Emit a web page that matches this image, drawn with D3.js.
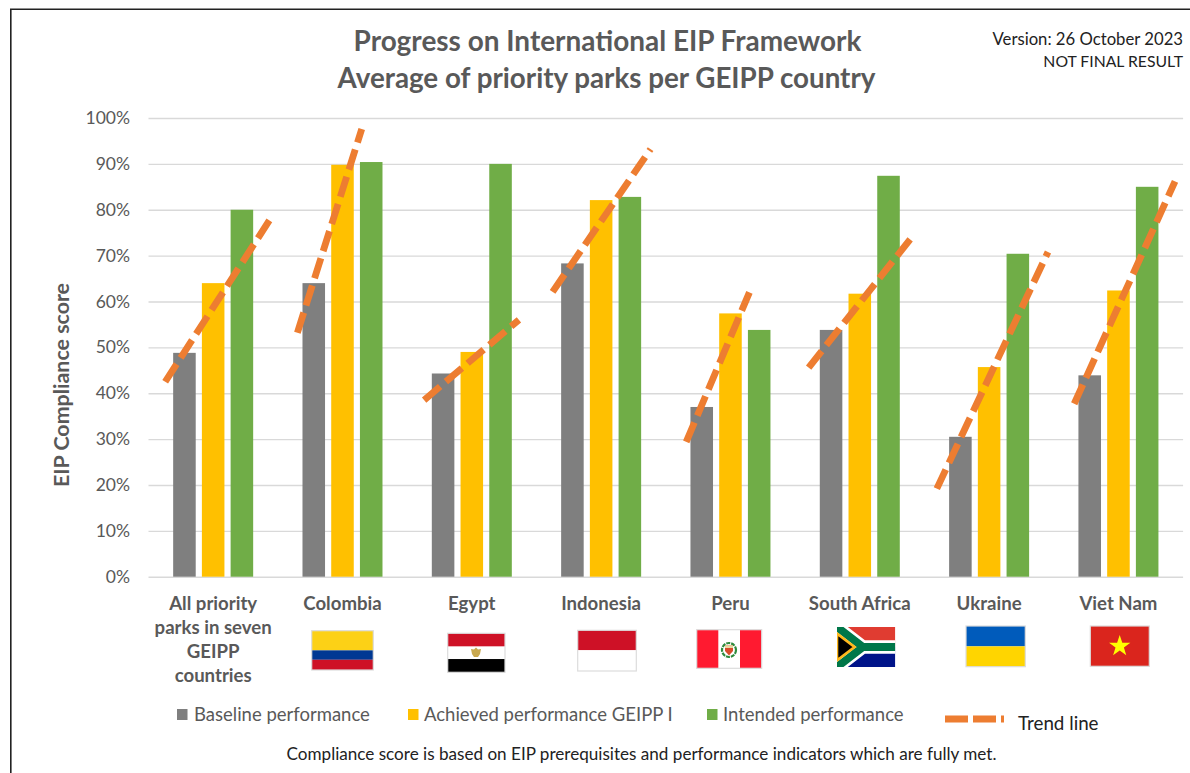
<!DOCTYPE html>
<html><head><meta charset="utf-8">
<script src="https://cdn.jsdelivr.net/npm/d3@7"></script>
<style>
html,body{margin:0;padding:0;background:#fff;overflow:hidden}
svg{display:block}
text{font-family:Lato,"Noto Sans",sans-serif}
</style></head><body>
<script>
const categories = ["All priority parks in seven GEIPP countries","Colombia","Egypt","Indonesia","Peru","South Africa","Ukraine","Viet Nam"];
const baseline = [48.8,64,44.3,68.3,37,53.8,30.5,43.9];
const achieved = [64,89.8,49,82.1,57.4,61.7,45.7,62.4];
const intended = [80,90.4,90,82.8,53.8,87.4,70.4,85];
const trendStart = [42.5,53.2,38.5,62.1,29.4,45.6,19.2,37.7];
const trendEnd = [77.8,97.6,56,93.2,62,74,70.8,86.2];
const trendFrom = [-1.67,-1.57,-1.66,-1.69,-1.54,-1.78,-1.82,-1.54];
const trendTo = [1.97,0.67,1.64,1.72,0.66,1.81,2.05,1.97];
const seriesNames = ["Baseline performance","Achieved performance GEIPP I","Intended performance"];
const seriesValues = [baseline,achieved,intended];
const seriesColors = ["#7f7f7f","#ffc000","#70ad47"];
const yTicks = [0,10,20,30,40,50,60,70,80,90,100];
const titleLines = ["Progress on International EIP Framework","Average of priority parks per GEIPP country"];

const W=1190,H=773;
const svg=d3.select("body").append("svg").attr("width",W).attr("height",H);
svg.append("rect").attr("width",W).attr("height",H).attr("fill","#fff");
svg.append("path").attr("d","M10.8,773V9.2H1190").attr("fill","none").attr("stroke","#222").attr("stroke-width",1.6);

const x=d3.scaleBand().domain(categories).range([148.5,1183.1]);
const y=d3.scaleLinear().domain([0,100]).range([576.7,118]);
const inner=d3.scaleBand().domain(d3.range(3)).range([-40,40]).paddingInner(0.215);
const slot=inner.step();
const cx=c=>x(c)+x.bandwidth()/2;

// axis and gridlines
const gAxis=svg.append("g").attr("transform","translate(148.5,0)")
  .call(d3.axisLeft(y).tickValues(yTicks).tickFormat(d=>d+"%").tickSize(-1034.6).tickPadding(18.5));
gAxis.select(".domain").remove();
gAxis.selectAll("line").attr("stroke","#d9d9d9").attr("stroke-width",1.4);
gAxis.selectAll("text").attr("fill","#595959").attr("font-size",17.5).attr("font-family","Lato");

// bars
seriesValues.forEach((vals,s)=>{
  svg.append("g").selectAll("rect").data(categories).join("rect")
    .attr("x",c=>cx(c)+inner(s)).attr("width",inner.bandwidth())
    .attr("y",(c,i)=>y(vals[i])).attr("height",(c,i)=>y(0)-y(vals[i]))
    .attr("fill",seriesColors[s]);
});

// trend lines
const dash="21,7.5";
svg.append("g").selectAll("line").data(categories).join("line")
  .attr("x1",(c,i)=>cx(c)+trendFrom[i]*slot).attr("x2",(c,i)=>cx(c)+trendTo[i]*slot)
  .attr("y1",(c,i)=>y(trendStart[i])).attr("y2",(c,i)=>y(trendEnd[i]))
  .attr("stroke","#ed7d31").attr("stroke-width",6.8).attr("stroke-dasharray",dash);

// title
const txt=(t,px,py,size,fill,opts={})=>svg.append("text").attr("x",px).attr("y",py).text(t)
  .attr("font-size",size).attr("fill",fill).attr("text-anchor",opts.anchor||"start")
  .attr("font-weight",opts.weight||400);
txt(titleLines[0],607.5,50.5,27.95,"#595959",{anchor:"middle",weight:700});
txt(titleLines[1],606.5,87.5,27.75,"#595959",{anchor:"middle",weight:700});
txt("Version: 26 October 2023",1183,44.5,16.7,"#222",{anchor:"end"});
txt("NOT FINAL RESULT",1183,67,15.75,"#222",{anchor:"end"});
svg.append("text").attr("transform","translate(69,385) rotate(-90)").attr("text-anchor","middle")
  .attr("font-size",21.4).attr("font-weight",700).attr("fill","#595959").text("EIP Compliance score");

// category labels
const catLines=[["All priority","parks in seven","GEIPP","countries"],["Colombia"],["Egypt"],["Indonesia"],["Peru"],["South Africa"],["Ukraine"],["Viet Nam"]];
categories.forEach((c,i)=>catLines[i].forEach((l,j)=>
  txt(l,cx(c),609.5+j*24.3,18.6,"#595959",{anchor:"middle",weight:700})));

// legend
const legX=[177,408,707], legTx=[194,424,723];
seriesNames.forEach((n,i)=>{
  svg.append("rect").attr("x",legX[i]).attr("y",709).attr("width",10.5).attr("height",11).attr("fill",seriesColors[i]);
  txt(n,legTx[i],721,18.5,"#595959");
});
svg.append("line").attr("x1",945).attr("x2",1004).attr("y1",719).attr("y2",719)
  .attr("stroke","#ed7d31").attr("stroke-width",6.8).attr("stroke-dasharray","23,5");
txt("Trend line",1018,729.5,18.8,"#222");
txt("Compliance score is based on EIP prerequisites and performance indicators which are fully met.",641.5,760,17.1,"#222",{anchor:"middle"});

// flags
function stripesH(x0,y0,w,h,rows){ // rows: [[color,fraction],...]
  let yy=y0;
  rows.forEach(([col,f])=>{svg.append("rect").attr("x",x0).attr("y",yy).attr("width",w).attr("height",h*f).attr("fill",col);yy+=h*f;});
}
function frame(x0,y0,w,h){svg.append("rect").attr("x",x0).attr("y",y0).attr("width",w).attr("height",h).attr("fill","none").attr("stroke","#dcdcdc").attr("stroke-width",1.2);}
// Colombia
stripesH(311.7,630.7,61.6,39.3,[["#fcd116",.5],["#003893",.24],["#ce1126",.26]]);frame(311.7,630.7,61.6,39.3);
// Egypt
stripesH(447.7,633.3,57.3,39,[["#ce1126",.34],["#ffffff",.32],["#000000",.34]]);frame(447.7,633.3,57.3,39);
svg.append("path").attr("d","M476,647.5l2,2 3,-0.5 -1,5 -2,3h-4l-2,-3 -1,-5 3,0.5z").attr("fill","#c9a94f");
// Indonesia
stripesH(577.7,630.3,58.6,40.7,[["#ce1126",.49],["#ffffff",.51]]);frame(577.7,630.3,58.6,40.7);
// Peru
svg.append("rect").attr("x",696.7).attr("y",629.7).attr("width",65).attr("height",38.6).attr("fill","#ffffff");
svg.append("rect").attr("x",696.7).attr("y",629.7).attr("width",21.6).attr("height",38.6).attr("fill","#ff1a30");
svg.append("rect").attr("x",740).attr("y",629.7).attr("width",21.7).attr("height",38.6).attr("fill","#ff1a30");
frame(696.7,629.7,65,38.6);
svg.append("circle").attr("cx",729).attr("cy",650).attr("r",7).attr("fill","none").attr("stroke","#2e8b3d").attr("stroke-width",2.2).attr("stroke-dasharray","4,1");
svg.append("path").attr("d","M725,645.5h8v5.5l-4,4.5l-4,-4.5z").attr("fill","#d94a2b");
svg.append("rect").attr("x",725).attr("y",645.5).attr("width",8).attr("height",2.5).attr("fill","#e8d9a0");
// South Africa
const sa=svg.append("g").attr("transform","translate(837,627) scale(0.6478,0.6667)");
svg.append("clipPath").attr("id","saClip").append("rect").attr("width",90).attr("height",60);
sa.attr("clip-path","url(#saClip)");
sa.append("rect").attr("width",90).attr("height",30).attr("fill","#e03c31");
sa.append("rect").attr("y",30).attr("width",90).attr("height",30).attr("fill","#001489");
const yPath="M0,0L40,30L0,60M40,30H90";
sa.append("path").attr("d",yPath).attr("fill","none").attr("stroke","#fff").attr("stroke-width",20);
sa.append("path").attr("d",yPath).attr("fill","none").attr("stroke","#007749").attr("stroke-width",12);
sa.append("path").attr("d","M0,10L27,30L0,50Z").attr("fill","#000").attr("stroke","#ffb81c").attr("stroke-width",4);
// Ukraine
stripesH(966,626,59.3,40.7,[["#005bbb",.5],["#ffd500",.5]]);frame(966,626,59.3,40.7);
// Viet Nam
svg.append("rect").attr("x",1090.3).attr("y",626).attr("width",59).attr("height",40.3).attr("fill","#da251d");frame(1090.3,626,59,40.3);
const star=d3.range(10).map(k=>{const r=k%2?4.4:11.2,a=-Math.PI/2+k*Math.PI/5;return [1119.7+r*Math.cos(a),646.2+r*Math.sin(a)];});
svg.append("polygon").attr("points",star.join(" ")).attr("fill","#ffff00");
</script>
</body></html>
